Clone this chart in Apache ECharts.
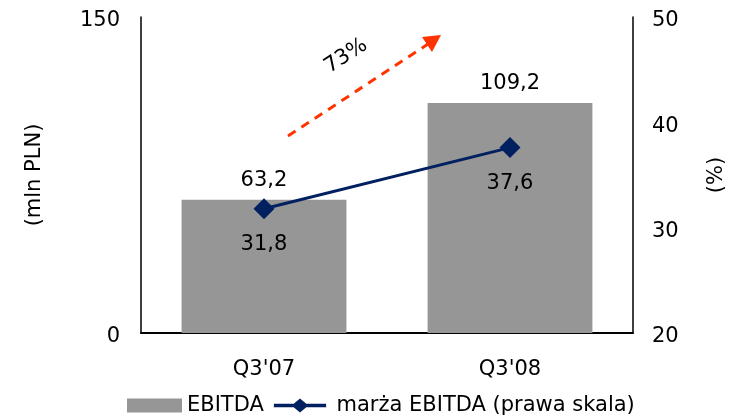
<!DOCTYPE html>
<html><head><meta charset="utf-8">
<script src="https://cdn.jsdelivr.net/npm/echarts@6/dist/echarts.min.js"></script>
<style>html,body{margin:0;padding:0;background:#fff}#c{width:738px;height:418px}</style>
</head><body><div id="c"></div>
<script>
const categories = ["Q3'07", "Q3'08"];
const ebitda = [63.2, 109.2];
const marza = [31.8, 37.6];
const leftTicks = [0, 150];
const rightTicks = [20, 30, 40, 50];
const growthLabel = '73%';

const FONT = 'DejaVu Sans';
const fmt = p => String(p.value).replace('.', ',');
const lineIcon = 'path://M0,5.6L21,5.6L21,9.4L0,9.4Z M19,7.5L28,0L37,7.5L28,15Z M35,5.6L56,5.6L56,9.4L35,9.4Z';
const chart = echarts.init(document.getElementById('c'), null, {renderer: 'canvas'});
chart.setOption({
  animation: false,
  textStyle: {fontFamily: FONT, color: '#000'},
  grid: {left: 141, right: 105, top: 17, bottom: 85},
  legend: {
    left: 122, top: 390, itemWidth: 55, itemHeight: 14, itemGap: 10,
    textStyle: {fontFamily: FONT, fontSize: 21, color: '#000'},
    data: [{name: 'EBITDA', icon: 'rect'},
           {name: 'marża EBITDA (prawa skala)', icon: lineIcon,
            textStyle: {padding: [0, 0, 0, 4]}}]
  },
  xAxis: {
    type: 'category', data: categories,
    axisLine: {lineStyle: {color: '#000', width: 2}},
    axisTick: {show: false},
    axisLabel: {fontFamily: FONT, fontSize: 21, color: '#000', margin: 26}
  },
  yAxis: [{
    type: 'value', min: leftTicks[0], max: leftTicks[leftTicks.length - 1], interval: 150,
    name: '(mln PLN)', nameLocation: 'middle', nameRotate: 90, nameGap: 96,
    nameTextStyle: {fontFamily: FONT, fontSize: 21, color: '#000'},
    axisLine: {show: true, lineStyle: {color: '#000', width: 1.5}},
    axisTick: {show: false}, splitLine: {show: false},
    axisLabel: {fontFamily: FONT, fontSize: 21, color: '#000', margin: 21,
      verticalAlign: 'top', lineHeight: 8}
  }, {
    type: 'value', min: rightTicks[0], max: rightTicks[rightTicks.length - 1], interval: 10,
    name: '(%)', nameLocation: 'middle', nameRotate: 90, nameGap: 73,
    nameTextStyle: {fontFamily: FONT, fontSize: 21, color: '#000'},
    axisLine: {show: true, lineStyle: {color: '#000', width: 1.5}},
    axisTick: {show: false}, splitLine: {show: false},
    axisLabel: {fontFamily: FONT, fontSize: 21, color: '#000', margin: 19,
      verticalAlign: 'top', lineHeight: 8}
  }],
  series: [{
    name: 'EBITDA', type: 'bar', data: ebitda, barWidth: '67%',
    itemStyle: {color: '#969696'},
    label: {show: true, position: 'top', distance: 7, formatter: fmt,
      fontFamily: FONT, fontSize: 21, color: '#000', lineHeight: 24}
  }, {
    name: 'marża EBITDA (prawa skala)', type: 'line', yAxisIndex: 1, data: marza,
    symbol: 'diamond', symbolSize: 21,
    lineStyle: {color: '#002060', width: 3},
    itemStyle: {color: '#002060'},
    label: {show: true, position: 'bottom', distance: 13, formatter: fmt,
      fontFamily: FONT, fontSize: 21, color: '#000', lineHeight: 24}
  }],
  graphic: [
    {type: 'line', shape: {x1: 288, y1: 136, x2: 428, y2: 44},
     style: {stroke: '#ff3300', lineWidth: 3, lineDash: [9, 7]}},
    {type: 'polygon', shape: {points: [[422, 37], [441, 35], [432, 52]]},
     style: {fill: '#ff3300'}},
    {type: 'text', x: 346, y: 56, rotation: 33 * Math.PI / 180,
     style: {text: growthLabel, x: 0, y: 0, align: 'center', verticalAlign: 'middle',
       font: '21px "DejaVu Sans"', fill: '#000'}}
  ]
});
</script></body></html>
